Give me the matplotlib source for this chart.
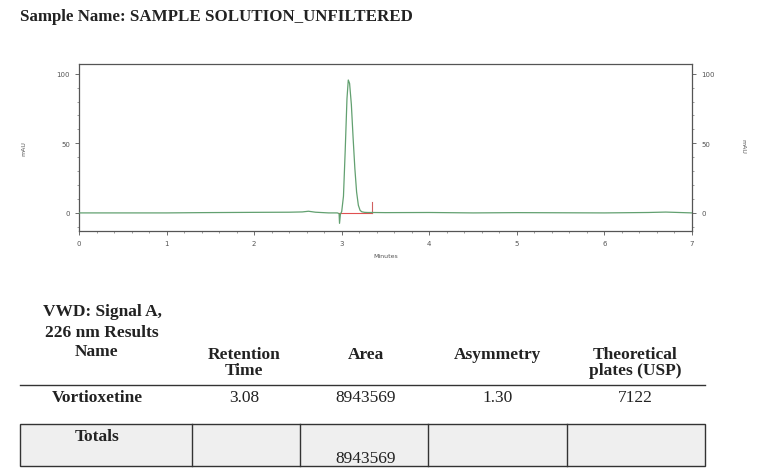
import matplotlib
matplotlib.use("Agg")
import matplotlib.pyplot as plt
from matplotlib.ticker import MultipleLocator
from matplotlib.patches import Rectangle

# ---------------- data ----------------
title = "Sample Name: SAMPLE SOLUTION_UNFILTERED"

time_min = [0.0, 1.0, 1.4, 2.0, 2.4, 2.55, 2.62, 2.7, 2.85, 2.95, 2.97, 2.975, 2.985,
            3.0, 3.02, 3.04, 3.06, 3.075, 3.09, 3.11, 3.13, 3.15, 3.17, 3.19, 3.21,
            3.23, 3.26, 3.3, 3.34, 3.5, 4.0, 4.5, 5.0, 6.0, 6.5, 6.7, 7.0]
signal_mau = [0.0, 0.0, 0.2, 0.4, 0.5, 0.7, 1.2, 0.5, 0.0, 0.0, -0.5, -7.5, -1.0,
              1.0, 12.0, 45.0, 82.0, 95.5, 93.0, 78.0, 54.0, 32.0, 15.0, 5.5, 1.8,
              0.8, 0.4, 0.3, 0.3, 0.2, 0.3, 0.0, 0.2, 0.0, 0.3, 0.6, 0.0]

baseline_t = [2.97, 3.35]
baseline_v = [0.0, 0.0]
peak_end_mark_t = [3.35, 3.35]
peak_end_mark_v = [0.0, 8.0]

x_ticks = [0, 1, 2, 3, 4, 5, 6, 7]
y_ticks = [0, 50, 100]

table_title = ["VWD: Signal A,", "226 nm Results", "Name"]
col_headers = [["Retention", "Time"], ["Area"], ["Asymmetry"], ["Theoretical", "plates (USP)"]]
row_name = "Vortioxetine"
row_values = ["3.08", "8943569", "1.30", "7122"]
totals_label = "Totals"
totals_values = ["", "8943569", "", ""]

# ---------------- figure ----------------
W, H = 757, 477
fig = plt.figure(figsize=(W / 100, H / 100), dpi=100)
fig.patch.set_facecolor("white")

def fx(px):
    return px / W

def fy(py):
    return 1 - py / H

# chromatogram axes (pixels: left 79, right 692, top 65, bottom 232)
ax = fig.add_axes([fx(79), fy(232), fx(692) - fx(79), fy(65) - fy(232)])
ax.plot(time_min, signal_mau, color="#62a070", lw=0.9, zorder=3)
ax.plot(baseline_t, baseline_v, color="#e05050", lw=0.8, zorder=2)
ax.plot(peak_end_mark_t, peak_end_mark_v, color="#d06060", lw=0.8, zorder=2)
ax.set_xlim(0, 7)
ax.set_ylim(-13, 107)
ax.set_xticks(x_ticks)
ax.set_yticks(y_ticks)
ax.xaxis.set_minor_locator(MultipleLocator(0.2))
ax.yaxis.set_minor_locator(MultipleLocator(10))
ax.tick_params(axis="both", which="major", labelsize=5, colors="#555555",
               length=3, width=0.6, direction="out")
ax.tick_params(axis="both", which="minor", length=1.5, width=0.5, colors="#777777")
ax.tick_params(axis="y", which="both", right=True, labelright=True)
for s in ax.spines.values():
    s.set_linewidth(0.9)
    s.set_color("#555555")
ax.set_xlabel("Minutes", fontsize=4.5, color="#555555", labelpad=5)
ax.set_ylabel("mAU", fontsize=4.5, color="#555555", labelpad=22)
fig.text(fx(743), fy(146), "mAU", fontsize=4.5, color="#555555", rotation=270,
         ha="center", va="center")

# title
serif = ["Liberation Serif", "DejaVu Serif"]
fig.text(fx(20), fy(17), title, fontsize=12.2, fontweight="bold", family=serif,
         color="#222222", ha="left", va="center")

# ---------------- table ----------------
tax = fig.add_axes([0, 0, 1, 1])
tax.set_xlim(0, W)
tax.set_ylim(H, 0)
tax.axis("off")

tc = "#222222"
fs = 12.5
title_y = [312, 333, 352]
for i, line in enumerate(table_title):
    xcen = 102 if i < 2 else 97
    tax.text(xcen, title_y[i], line, fontsize=fs, fontweight="bold", family=serif,
             color=tc, ha="center", va="center")

col_x = [244, 366, 498, 635]
for cx, hdr in zip(col_x, col_headers):
    for j, line in enumerate(hdr):
        tax.text(cx, 355 + j * 16, line, fontsize=fs, fontweight="bold", family=serif,
                 color=tc, ha="center", va="center")

tax.plot([20, 705], [386, 386], color="#333333", lw=1.0)
tax.text(97, 398, row_name, fontsize=fs, fontweight="bold", family=serif,
         color=tc, ha="center", va="center")
for cx, v in zip(col_x, row_values):
    tax.text(cx, 398, v, fontsize=fs, family=serif, color=tc, ha="center", va="center")

# totals box
box_left, box_right, box_top, box_bot = 20, 705, 425, 467
tax.add_patch(Rectangle((box_left, box_top), box_right - box_left, box_bot - box_top,
                        facecolor="#efefef", edgecolor="#333333", lw=1.0))
for xd in [192, 300, 428, 567]:
    tax.plot([xd, xd], [box_top, box_bot], color="#333333", lw=1.0)
tax.text(97, 437, totals_label, fontsize=fs, fontweight="bold", family=serif,
         color=tc, ha="center", va="center")
for cx, v in zip(col_x, totals_values):
    if v:
        tax.text(cx, 459, v, fontsize=fs, family=serif, color=tc, ha="center", va="center")

fig.savefig("out.png", dpi=100, facecolor="white")
